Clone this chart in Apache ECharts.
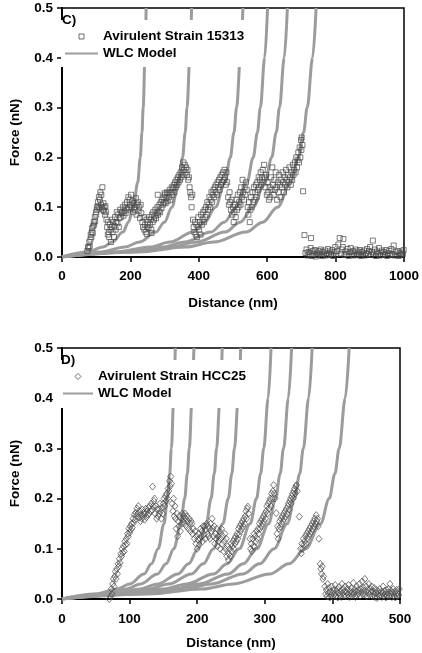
<!DOCTYPE html>
<html>
<head>
<meta charset="utf-8">
<script src="https://cdn.jsdelivr.net/npm/echarts@6/dist/echarts.min.js"></script>
<style>
html,body{margin:0;padding:0;background:#fff;}
#chart{width:422px;height:653px;}
</style>
</head>
<body>
<div id="chart"></div>
<script>
// ---------- Axis ticks ----------
const cDistanceTicks = [0, 200, 400, 600, 800, 1000];
const dDistanceTicks = [0, 100, 200, 300, 400, 500];
const forceTicks = [0.0, 0.1, 0.2, 0.3, 0.4, 0.5];

// ---------- Labels ----------
const cLabel = 'C)';
const dLabel = 'D)';
const cStrainName = 'Avirulent Strain 15313';
const dStrainName = 'Avirulent Strain HCC25';
const modelName = 'WLC Model';
const xTitle = 'Distance (nm)';
const yTitle = 'Force (nN)';

// ---------- WLC model curves (force levels shared, distances read per curve) ----------
const wlcForce = [0, 0.01, 0.02, 0.03, 0.05, 0.07, 0.1, 0.15, 0.2, 0.25, 0.3, 0.4, 0.5];
const cWlc1 = [0, 74.0, 119.8, 146.9, 178.2, 194.3, 208.6, 221.5, 228.9, 233.8, 237.4, 242.6, 246.0];
const cWlc2 = [0, 114.0, 184.5, 226.4, 274.5, 299.4, 321.4, 341.2, 352.6, 360.2, 365.7, 373.7, 379.0];
const cWlc3 = [0, 159.2, 257.6, 316.0, 383.2, 418.0, 448.6, 476.3, 492.2, 502.8, 510.5, 521.7, 529.0];
const cWlc4 = [0, 180.8, 292.7, 359.0, 435.3, 474.8, 509.6, 541.1, 559.2, 571.3, 580.0, 592.7, 601.0];
const cWlc5 = [0, 198.3, 320.9, 393.6, 477.4, 520.7, 558.9, 593.4, 613.2, 626.4, 636.0, 649.9, 659.0];
const cWlc6 = [0, 223.6, 361.8, 443.8, 538.2, 587.1, 630.1, 669.0, 691.4, 706.3, 717.0, 732.8, 743.0];

const dWlc1 = [0, 50.4, 81.6, 100.1, 121.4, 132.4, 142.2, 150.9, 156.0, 159.3, 161.8, 165.3, 167.6];
const dWlc2 = [0, 58.7, 95.0, 116.5, 141.3, 154.1, 165.4, 175.7, 181.5, 185.4, 188.3, 192.4, 195.1];
const dWlc3 = [0, 71.3, 115.4, 141.6, 171.7, 187.2, 201.0, 213.4, 220.5, 225.3, 228.7, 233.7, 237.0];
const dWlc4 = [0, 79.5, 128.7, 157.9, 191.5, 208.9, 224.2, 238.0, 246.0, 251.3, 255.1, 260.7, 264.4];
const dWlc5 = [0, 93.0, 150.6, 184.7, 224.0, 244.3, 262.2, 278.4, 287.7, 293.9, 298.4, 305.0, 309.2];
const dWlc6 = [0, 102.2, 165.4, 202.8, 246.0, 268.3, 288.0, 305.7, 316.0, 322.8, 327.7, 334.9, 339.6];
const dWlc7 = [0, 111.3, 180.2, 221.0, 268.0, 292.3, 313.8, 333.1, 344.3, 351.7, 357.0, 364.9, 370.0];
const dWlc8 = [0, 127.8, 206.9, 253.7, 307.7, 335.6, 360.3, 382.5, 395.3, 403.8, 410.0, 419.0, 424.8];

// ---------- Measured data, panel C (distance nm, force nN) ----------
const cPeak1 = [[74,0.012],[76,0.02],[78,0.018],[80,0.03],[81,0.022],[83,0.035],[84,0.045],[86,0.04],[87,0.05],[88,0.058],[90,0.048],[91,0.062],[93,0.07],[94,0.065],[96,0.08],[97,0.072],[99,0.09],[100,0.085],[102,0.1],[103,0.095],[105,0.11],[106,0.102],[108,0.12],[109,0.098],[111,0.115],[112,0.13],[114,0.105],[115,0.125],[117,0.1],[118,0.14],[120,0.095],[121,0.108],[123,0.092],[124,0.1],[126,0.085],[127,0.102],[129,0.09],[130,0.075]];
const cPeak2 = [[132,0.06],[134,0.045],[135,0.07],[137,0.05],[138,0.04],[140,0.065],[142,0.055],[143,0.03],[145,0.06],[147,0.075],[148,0.05],[150,0.07],[152,0.04],[153,0.062],[155,0.08],[157,0.055],[158,0.07],[160,0.09],[162,0.068],[164,0.085],[166,0.06],[168,0.078],[170,0.095],[172,0.08],[174,0.09],[176,0.088],[178,0.1],[180,0.083],[182,0.092],[184,0.105],[186,0.088],[188,0.098],[190,0.11],[192,0.095],[194,0.12],[196,0.1],[198,0.115],[200,0.105],[202,0.125],[204,0.098],[206,0.112],[208,0.09],[210,0.108],[212,0.1],[214,0.095],[216,0.118],[218,0.085],[220,0.105],[222,0.11],[224,0.092],[226,0.1],[228,0.078],[230,0.105],[232,0.088]];
const cPeak3 = [[235,0.07],[237,0.06],[239,0.08],[241,0.055],[243,0.065],[245,0.05],[247,0.075],[249,0.06],[251,0.07],[253,0.058],[255,0.08],[257,0.065],[259,0.075],[261,0.055],[263,0.085],[265,0.07],[267,0.09],[269,0.075],[271,0.082],[273,0.095],[275,0.078],[277,0.088],[279,0.1],[281,0.085],[283,0.092],[285,0.105],[287,0.09],[289,0.11],[291,0.098],[293,0.115],[295,0.105],[297,0.12],[299,0.11],[301,0.125],[303,0.108],[305,0.118],[307,0.13],[309,0.112],[311,0.128],[313,0.12],[315,0.135],[317,0.115],[319,0.13],[321,0.14],[323,0.125],[325,0.138],[327,0.145],[329,0.13],[331,0.15],[333,0.14],[335,0.155],[337,0.145],[339,0.16],[341,0.15],[343,0.165],[345,0.155],[347,0.17],[349,0.16],[351,0.18],[353,0.165],[355,0.19],[357,0.175],[359,0.185],[361,0.17],[363,0.18],[365,0.165],[367,0.175],[369,0.155],[371,0.16],[373,0.14],[280,0.125],[300,0.128],[262,0.048],[248,0.046]];
const cPeak4 = [[375,0.13],[377,0.12],[379,0.1],[381,0.125],[383,0.075],[385,0.06],[387,0.05],[389,0.07],[391,0.045],[393,0.065],[395,0.04],[397,0.06],[399,0.08],[401,0.055],[403,0.07],[405,0.045],[407,0.085],[409,0.065],[411,0.075],[413,0.09],[415,0.07],[417,0.095],[419,0.08],[421,0.1],[423,0.085],[425,0.11],[427,0.095],[429,0.105],[431,0.12],[433,0.1],[435,0.115],[437,0.13],[439,0.11],[441,0.125],[443,0.135],[445,0.12],[447,0.14],[449,0.13],[451,0.145],[453,0.125],[455,0.15],[457,0.14],[459,0.155],[461,0.135],[463,0.16],[465,0.145],[467,0.165],[469,0.15],[471,0.17],[473,0.155],[475,0.175],[477,0.16],[479,0.145],[481,0.17],[483,0.15]];
const cPeak5 = [[486,0.12],[488,0.105],[490,0.13],[492,0.11],[494,0.095],[496,0.115],[498,0.085],[500,0.1],[502,0.07],[504,0.09],[506,0.105],[508,0.08],[510,0.115],[512,0.095],[514,0.125],[516,0.1],[518,0.11],[520,0.13],[522,0.105],[524,0.14],[526,0.12],[528,0.155],[530,0.13],[532,0.115],[534,0.14],[536,0.125],[538,0.15],[540,0.135],[543,0.1],[545,0.085],[547,0.11],[549,0.07],[551,0.095],[553,0.12],[555,0.1],[557,0.13],[559,0.11],[561,0.14],[563,0.115],[565,0.13],[567,0.145],[569,0.12],[571,0.15],[573,0.135],[575,0.16],[577,0.14],[579,0.155],[581,0.17],[583,0.145],[585,0.16],[587,0.175],[589,0.15],[591,0.185],[593,0.16],[595,0.14],[597,0.165],[599,0.125]];
const cPeak6 = [[601,0.15],[603,0.13],[605,0.115],[607,0.14],[609,0.12],[611,0.16],[613,0.135],[615,0.18],[617,0.145],[619,0.125],[621,0.155],[623,0.135],[625,0.17],[627,0.14],[629,0.115],[631,0.15],[633,0.13],[635,0.165],[637,0.145],[639,0.12],[641,0.155],[643,0.14],[645,0.17],[647,0.15],[649,0.13],[651,0.16],[653,0.145],[655,0.175],[657,0.155],[659,0.14],[661,0.165],[663,0.15],[665,0.18],[667,0.16],[669,0.145],[671,0.17],[673,0.155],[675,0.185],[677,0.165],[679,0.175],[681,0.19],[683,0.17],[685,0.2],[687,0.18],[689,0.195],[691,0.21],[693,0.19],[695,0.22],[697,0.2],[699,0.235],[700,0.215],[701,0.24],[703,0.225],[705,0.132]];
const cBaseline = [[709,0.044],[712,0.008],[715,0.015],[718,0.003],[721,0.01],[724,0.005],[727,0.018],[728,0.038],[730,0.002],[733,0.012],[736,0.006],[739,0.014],[742,0.001],[745,0.009],[748,0.004],[751,0.012],[754,0.007],[757,0.015],[760,0.002],[763,0.01],[766,0.005],[769,0.013],[772,0.003],[775,0.008],[778,0.016],[781,0.004],[784,0.011],[787,0.006],[790,0.014],[793,0.002],[796,0.009],[799,0.02],[802,0.005],[805,0.012],[808,0.025],[812,0.038],[815,0.007],[818,0.015],[821,0.02],[823,0.036],[826,0.004],[829,0.011],[832,0.006],[835,0.016],[838,0.002],[841,0.01],[844,0.018],[847,0.005],[850,0.012],[853,0.003],[856,0.009],[859,0.015],[862,0.004],[865,0.011],[868,0.007],[871,0.014],[874,0.002],[877,0.01],[880,0.005],[883,0.013],[886,0.003],[889,0.008],[892,0.016],[895,0.006],[898,0.012],[901,0.02],[904,0.004],[907,0.01],[909,0.033],[912,0.007],[915,0.015],[918,0.002],[921,0.011],[924,0.006],[927,0.018],[930,0.003],[933,0.009],[936,0.013],[939,0.004],[942,0.01],[945,0.006],[948,0.014],[951,0.002],[954,0.008],[957,0.012],[960,0.004],[963,0.016],[966,0.006],[970,0.023],[973,0.003],[976,0.01],[979,0.005],[982,0.012],[985,0.002],[988,0.008],[991,0.004],[994,0.011],[997,0.006],[999,0.014]];

// ---------- Measured data, panel D ----------
const dPeak1 = [[70,0.0],[72,0.005],[73,0.02],[74,0.01],[75,0.03],[76,0.04],[77,0.025],[78,0.045],[79,0.055],[80,0.04],[81,0.06],[82,0.05],[83,0.07],[84,0.065],[85,0.08],[86,0.072],[87,0.09],[88,0.085],[89,0.1],[90,0.092],[91,0.105],[92,0.095],[93,0.115],[94,0.108],[95,0.12],[96,0.11],[97,0.13],[98,0.125],[99,0.14],[100,0.132],[101,0.145],[102,0.138],[103,0.15],[104,0.142],[105,0.16],[106,0.152],[107,0.168],[108,0.158],[109,0.172],[110,0.165],[111,0.18],[112,0.17],[113,0.185],[114,0.162],[115,0.175],[116,0.155],[117,0.168],[118,0.16],[119,0.178],[120,0.165],[121,0.172],[122,0.158],[123,0.17],[124,0.18],[125,0.163],[126,0.175],[127,0.168],[128,0.182],[129,0.17],[130,0.185],[131,0.175],[132,0.19],[133,0.178],[134,0.224],[135,0.185],[136,0.195],[137,0.2],[138,0.17],[139,0.185],[140,0.16],[141,0.178],[142,0.165],[143,0.18],[144,0.17],[145,0.19],[146,0.175],[147,0.16],[148,0.182],[149,0.17],[150,0.19],[151,0.2],[152,0.185],[153,0.205],[154,0.195],[155,0.21],[156,0.2],[157,0.22],[158,0.215],[159,0.235],[160,0.225],[161,0.244],[162,0.23]];
const dPeak2 = [[163,0.19],[164,0.175],[165,0.2],[166,0.165],[167,0.185],[168,0.16],[169,0.14],[170,0.17],[171,0.125],[172,0.155],[173,0.145],[174,0.165],[175,0.135],[176,0.16],[177,0.15],[178,0.17],[179,0.155],[180,0.165],[181,0.15],[182,0.17],[183,0.16],[184,0.145],[185,0.165],[186,0.155],[187,0.14],[188,0.16],[189,0.15],[190,0.135],[191,0.155],[192,0.15],[193,0.13],[194,0.14],[196,0.12],[197,0.135],[198,0.11],[199,0.125],[200,0.1],[201,0.118],[202,0.13],[203,0.108],[204,0.12],[205,0.14],[206,0.125],[207,0.135],[208,0.115],[209,0.145],[210,0.128],[211,0.145],[212,0.12],[213,0.138],[214,0.15],[215,0.13],[216,0.145],[217,0.125],[218,0.14],[219,0.12],[220,0.15],[221,0.135]];
const dPeak3 = [[222,0.16],[223,0.14],[224,0.125],[225,0.145],[226,0.11],[227,0.13],[228,0.12],[229,0.14],[230,0.105],[231,0.125],[232,0.115],[233,0.135],[234,0.1],[235,0.12],[236,0.14],[237,0.11],[238,0.125],[239,0.095],[240,0.115],[241,0.13],[242,0.1],[243,0.12],[244,0.085],[245,0.105],[246,0.078],[247,0.09],[248,0.1],[249,0.085],[250,0.11],[251,0.095],[252,0.105],[253,0.115],[254,0.1],[255,0.12],[256,0.11],[257,0.125],[258,0.115],[259,0.13],[260,0.12],[261,0.14],[262,0.128],[263,0.145],[264,0.135],[265,0.15],[266,0.14],[267,0.155],[268,0.145],[269,0.16],[270,0.15],[271,0.165],[272,0.175],[273,0.16],[274,0.18],[275,0.184],[276,0.17]];
const dPeak4 = [[278,0.12],[279,0.1],[280,0.11],[281,0.095],[282,0.12],[283,0.105],[284,0.13],[285,0.104],[286,0.125],[287,0.115],[288,0.135],[289,0.12],[290,0.14],[291,0.13],[292,0.15],[293,0.14],[294,0.155],[295,0.145],[296,0.16],[297,0.15],[298,0.165],[299,0.155],[300,0.17],[301,0.16],[302,0.175],[303,0.185],[304,0.17],[305,0.19],[306,0.18],[307,0.195],[308,0.2],[309,0.185],[310,0.21],[311,0.2],[312,0.215],[313,0.227],[314,0.21],[315,0.2]];
const dPeak5 = [[317,0.171],[318,0.13],[319,0.145],[320,0.12],[321,0.14],[322,0.155],[323,0.144],[324,0.16],[325,0.15],[326,0.165],[327,0.155],[328,0.17],[329,0.16],[330,0.175],[331,0.165],[332,0.18],[333,0.17],[334,0.185],[335,0.19],[336,0.178],[337,0.195],[338,0.2],[339,0.19],[340,0.205],[341,0.21],[342,0.2],[343,0.215],[344,0.22],[345,0.21],[346,0.225],[347,0.227],[348,0.215]];
const dPeak6 = [[351,0.164],[353,0.1],[354,0.091],[355,0.11],[356,0.1],[357,0.12],[358,0.108],[359,0.115],[360,0.125],[361,0.11],[362,0.13],[363,0.12],[364,0.135],[365,0.125],[366,0.14],[367,0.13],[368,0.145],[369,0.135],[370,0.15],[371,0.14],[372,0.155],[373,0.145],[374,0.16],[375,0.15],[376,0.167],[377,0.155],[378,0.16],[379,0.145],[380,0.12],[382,0.07],[383,0.06],[384,0.05],[385,0.065],[386,0.04],[387,0.045]];
const dBaseline = [[389,0.025],[390,0.01],[391,0.018],[392,0.005],[393,0.03],[394,0.012],[395,0.022],[396,0.003],[397,0.015],[398,0.008],[399,0.025],[400,0.012],[401,0.004],[402,0.018],[403,0.01],[404,0.028],[405,0.006],[406,0.015],[407,0.02],[408,0.003],[409,0.012],[410,0.024],[411,0.008],[412,0.016],[413,0.004],[414,0.03],[415,0.012],[416,0.02],[417,0.007],[418,0.015],[419,0.025],[420,0.005],[421,0.013],[422,0.02],[423,0.009],[424,0.028],[425,0.004],[426,0.016],[427,0.011],[428,0.022],[429,0.006],[430,0.014],[431,0.032],[432,0.01],[433,0.019],[434,0.004],[435,0.015],[436,0.025],[437,0.008],[438,0.018],[439,0.012],[440,0.03],[441,0.006],[442,0.02],[443,0.014],[444,0.035],[445,0.009],[446,0.022],[447,0.016],[448,0.04],[449,0.01],[450,0.025],[451,0.005],[452,0.018],[453,0.012],[454,0.03],[455,0.008],[456,0.02],[457,0.014],[458,0.025],[459,0.006],[460,0.015],[461,0.01],[462,0.022],[463,0.004],[464,0.012],[465,0.018],[466,0.002],[467,0.01],[468,0.015],[469,0.006],[470,0.02],[471,0.008],[472,0.014],[473,0.004],[474,0.012],[475,0.025],[476,0.006],[477,0.016],[478,0.01],[479,0.003],[480,0.018],[481,0.008],[482,0.013],[483,0.02],[484,0.005],[485,0.03],[486,0.01],[487,0.016],[488,0.004],[489,0.012],[490,0.02],[491,0.006],[492,0.014],[493,0.003],[494,0.01],[495,0.018],[496,0.005],[497,0.012],[498,0.008],[499,0.02]];

// ---------- Build chart ----------
const FONT = '"Liberation Sans", Arial, Helvetica, sans-serif';
const CURVE_COLOR = '#9c9c9c';
const MARK_COLOR = '#4a4a4a';

const cWlcCurves = [cWlc1, cWlc2, cWlc3, cWlc4, cWlc5, cWlc6];
const dWlcCurves = [dWlc1, dWlc2, dWlc3, dWlc4, dWlc5, dWlc6, dWlc7, dWlc8];
const cData = [].concat(cPeak1, cPeak2, cPeak3, cPeak4, cPeak5, cPeak6, cBaseline);
const dData = [].concat(dPeak1, dPeak2, dPeak3, dPeak4, dPeak5, dPeak6, dBaseline);

function curveSeries(dist, axisIdx) {
  return {
    name: modelName, type: 'line', xAxisIndex: axisIdx, yAxisIndex: axisIdx,
    data: dist.map((x, i) => [x, wlcForce[i]]),
    symbol: 'none', showSymbol: false, smooth: 0.35, smoothMonotone: 'x',
    lineStyle: {color: CURVE_COLOR, width: 3}, itemStyle: {color: CURVE_COLOR},
    z: 2, silent: true, animation: false
  };
}

function xAxisFor(idx, ticks) {
  return {
    type: 'value', gridIndex: idx, min: ticks[0], max: ticks[ticks.length - 1],
    interval: ticks[1] - ticks[0],
    name: xTitle, nameLocation: 'middle', nameGap: idx === 0 ? 39 : 37,
    nameTextStyle: {fontFamily: FONT, fontWeight: 'bold', fontSize: 13.5, color: '#000'},
    axisLine: {show: true, lineStyle: {color: '#000', width: 2}},
    axisTick: {show: true, inside: false, length: 5, lineStyle: {color: '#000', width: 1.5}},
    axisLabel: {margin: idx === 0 ? 12 : 13, fontFamily: FONT, fontWeight: 'bold', fontSize: 13.5, color: '#000',
      formatter: v => String(v)},
    splitLine: {show: false}
  };
}
function yAxisFor(idx) {
  return {
    type: 'value', gridIndex: idx, min: forceTicks[0], max: forceTicks[forceTicks.length - 1],
    interval: 0.1,
    name: yTitle, nameLocation: 'middle', nameGap: 40,
    nameTextStyle: {fontFamily: FONT, fontWeight: 'bold', fontSize: 13.5, color: '#000'},
    axisLine: {show: true, lineStyle: {color: '#000', width: 2}},
    axisTick: {show: true, inside: false, length: 5, lineStyle: {color: '#000', width: 1.5}},
    axisLabel: {margin: 9, fontFamily: FONT, fontWeight: 'bold', fontSize: 13.5, color: '#000',
      formatter: v => v.toFixed(1)},
    splitLine: {show: false}
  };
}

const legendText = {fontFamily: FONT, fontWeight: 'bold', fontSize: 13.5, color: '#000', lineHeight: 15};
const markerLegendStyle = {color: '#fff', borderColor: MARK_COLOR, borderWidth: 1};
const lineLegendStyle = {color: 'rgba(0,0,0,0)', borderColor: 'rgba(0,0,0,0)', borderWidth: 0, opacity: 0};

const option = {
  backgroundColor: '#fff',
  animation: false,
  title: [
    {text: cLabel, left: 62, top: 13, padding: 0, textStyle: {fontFamily: FONT, fontWeight: 'bold', fontSize: 13.5, color: '#000'}},
    {text: dLabel, left: 61, top: 353, padding: 0, textStyle: {fontFamily: FONT, fontWeight: 'bold', fontSize: 13.5, color: '#000'}}
  ],
  legend: [
    {
      orient: 'vertical', left: 61, top: 20, padding: [9, 8, 6, 3], itemGap: 2,
      itemWidth: 33, itemHeight: 5, backgroundColor: '#fff', selectedMode: false,
      textStyle: legendText,
      data: [
        {name: cStrainName, icon: 'path://M0,0L10,0L10,10L0,10Z', itemStyle: markerLegendStyle},
        {name: modelName, itemStyle: lineLegendStyle}
      ]
    },
    {
      orient: 'vertical', left: 57, top: 360, padding: [9, 8, 7, 5], itemGap: 2,
      itemWidth: 30, itemHeight: 6, backgroundColor: '#fff', selectedMode: false,
      textStyle: legendText,
      data: [
        {name: dStrainName, icon: 'path://M5,0L10,5L5,10L0,5Z', itemStyle: markerLegendStyle},
        {name: modelName, itemStyle: lineLegendStyle}
      ]
    }
  ],
  grid: [
    {left: 58, top: 8, width: 346, height: 249, show: true, borderColor: '#000', borderWidth: 1.5, backgroundColor: 'transparent'},
    {left: 54, top: 348, width: 346, height: 251, show: true, borderColor: '#000', borderWidth: 1.5, backgroundColor: 'transparent'}
  ],
  xAxis: [xAxisFor(0, cDistanceTicks), xAxisFor(1, dDistanceTicks)],
  yAxis: [yAxisFor(0), yAxisFor(1)],
  series: [].concat(
    cWlcCurves.map(d => curveSeries(d, 0)),
    dWlcCurves.map(d => curveSeries(d, 1)),
    [
      {
        name: cStrainName, type: 'scatter', xAxisIndex: 0, yAxisIndex: 0,
        data: cData, symbol: 'rect', symbolSize: 5,
        itemStyle: {color: 'rgba(255,255,255,0)', borderColor: MARK_COLOR, borderWidth: 0.9},
        z: 3, silent: true, animation: false
      },
      {
        name: dStrainName, type: 'scatter', xAxisIndex: 1, yAxisIndex: 1,
        data: dData, symbol: 'diamond', symbolSize: [6, 7],
        itemStyle: {color: 'rgba(255,255,255,0)', borderColor: MARK_COLOR, borderWidth: 0.9},
        z: 3, silent: true, animation: false
      }
    ]
  )
};

const chart = echarts.init(document.getElementById('chart'), null, {renderer: 'canvas'});
chart.setOption(option);
</script>
</body>
</html>
